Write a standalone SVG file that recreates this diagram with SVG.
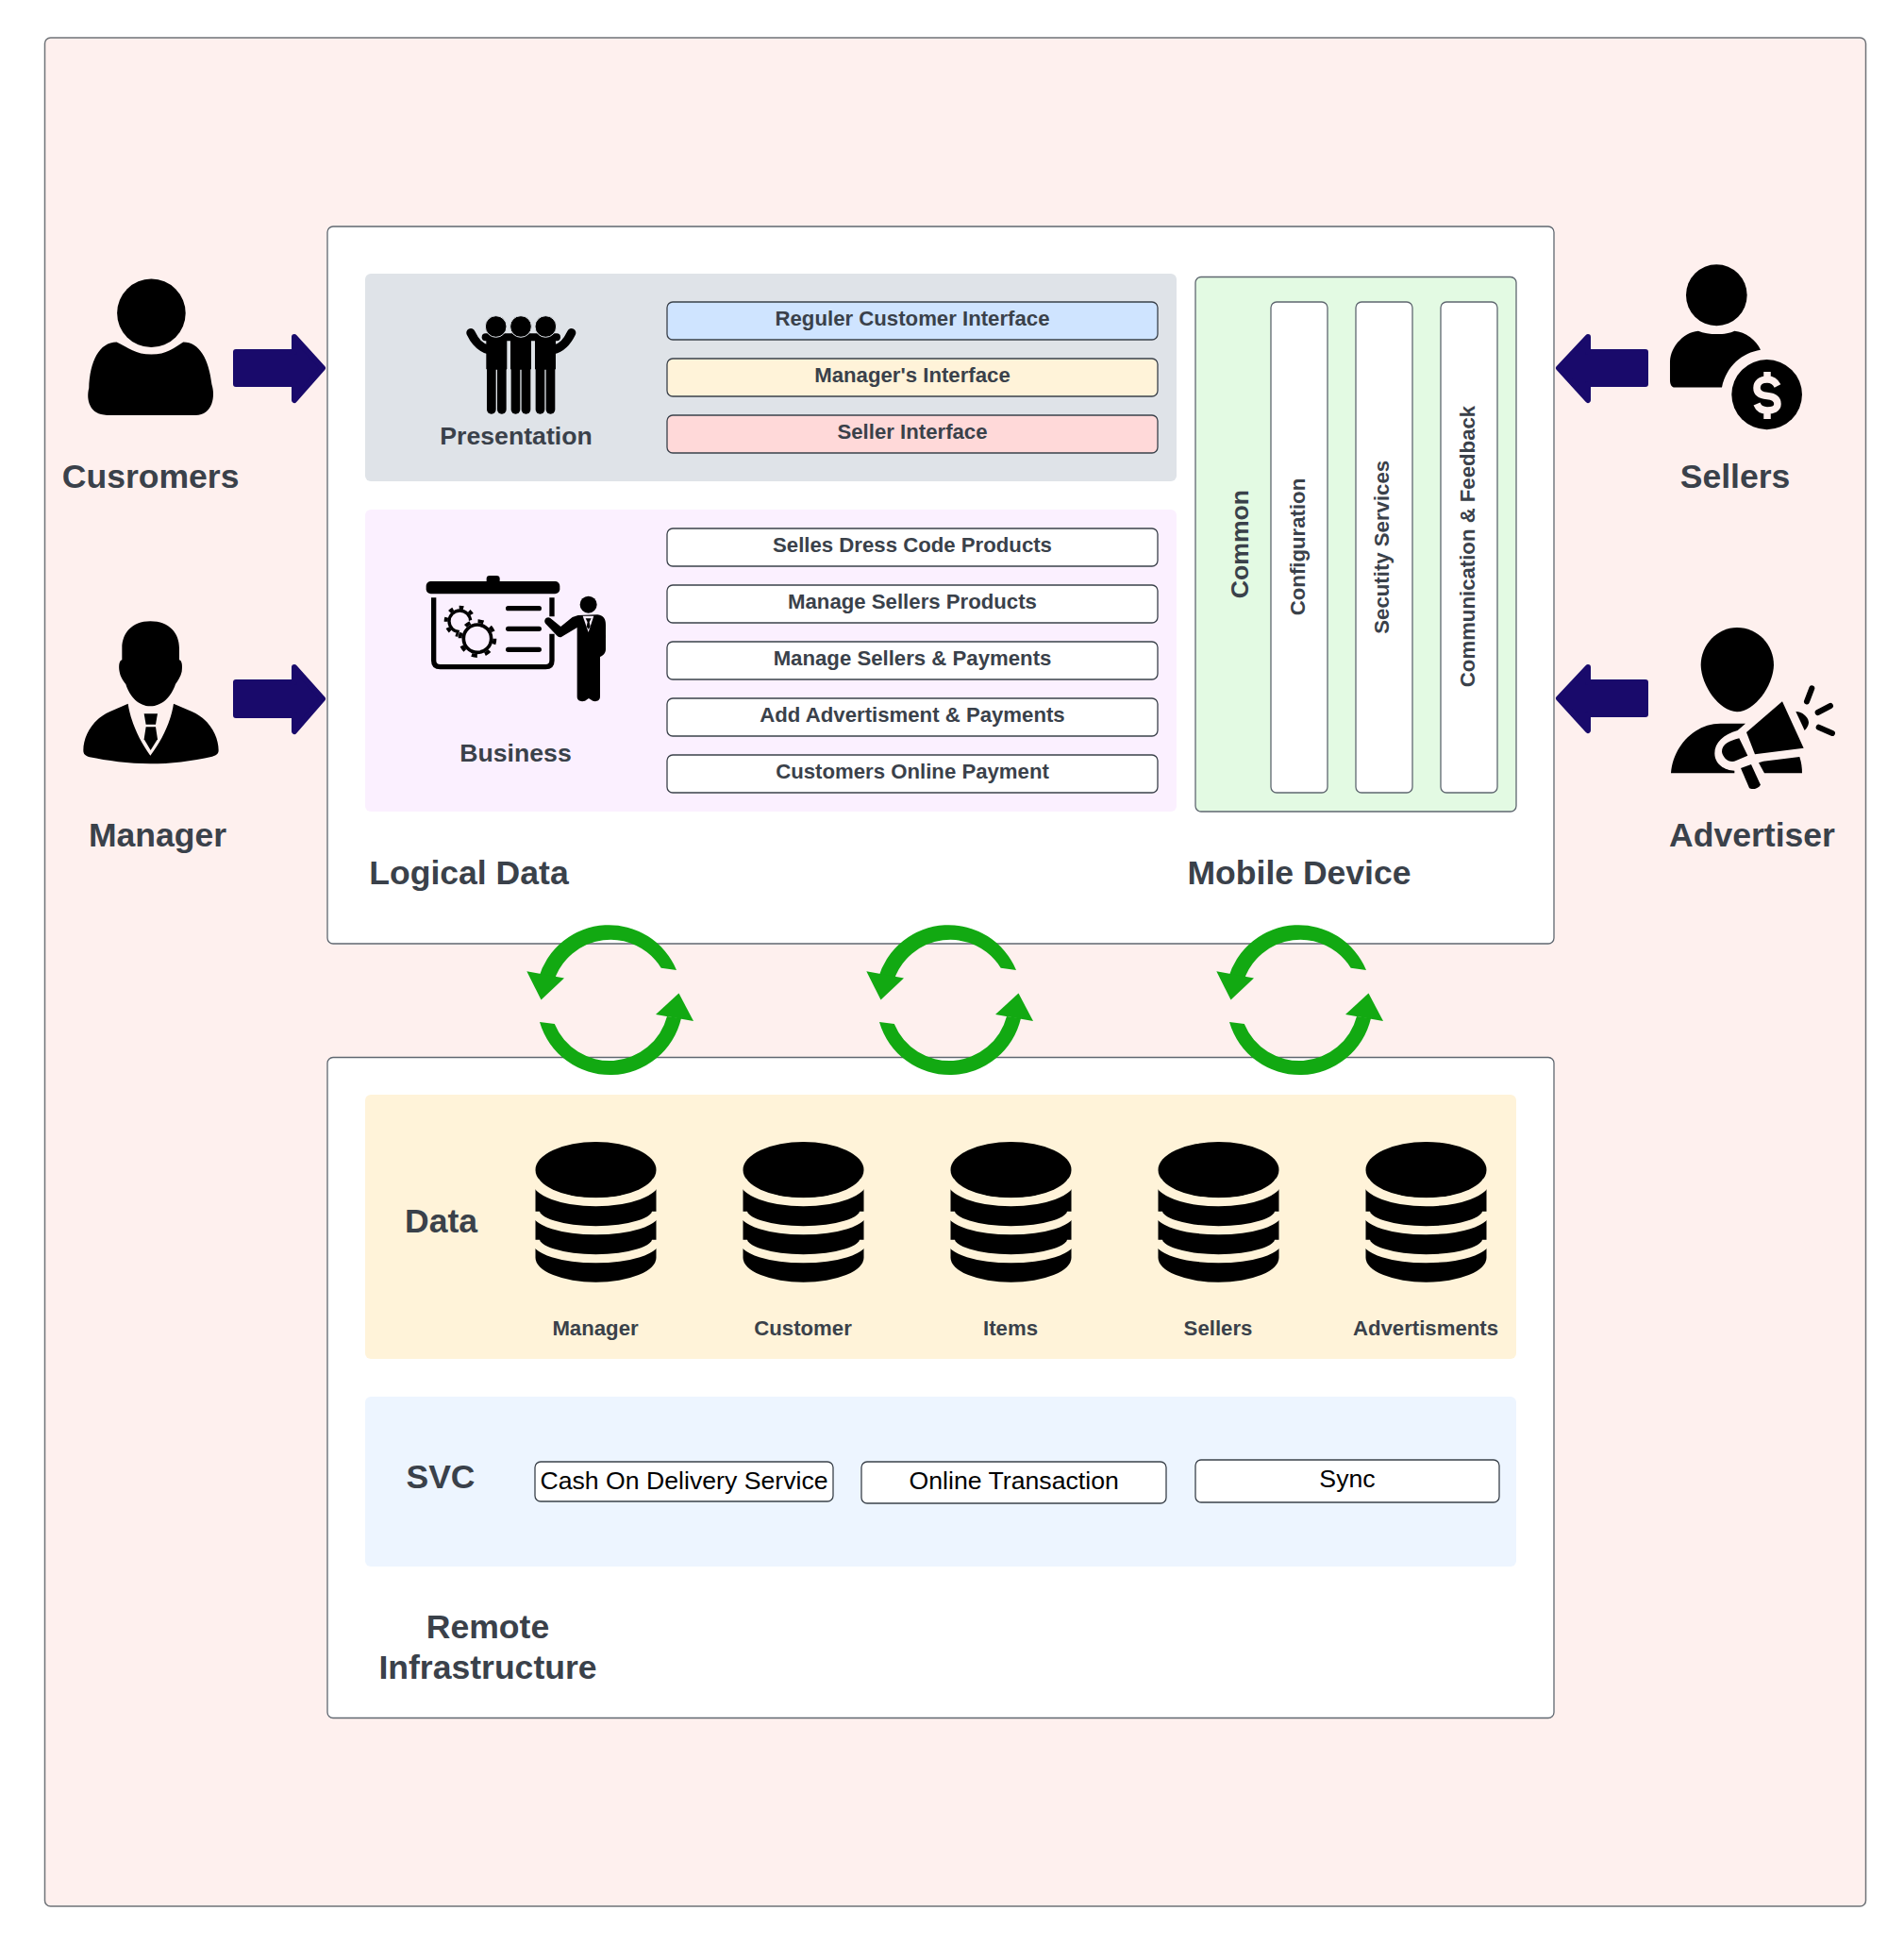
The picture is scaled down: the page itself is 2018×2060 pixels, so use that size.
<svg xmlns="http://www.w3.org/2000/svg" xmlns:xlink="http://www.w3.org/1999/xlink" width="2018" height="2060" viewBox="0 0 2018 2060">
<style>
text{font-family:"Liberation Sans",Arial,sans-serif;fill:#3a414a;font-weight:700;text-anchor:middle}
.t35{font-size:35.56px}.t26{font-size:26.67px}.t22{font-size:22.2px}
.t27{font-size:26.67px;font-weight:400;fill:#000}
.box{stroke:#5f6770;stroke-width:1.3}
.bar{stroke:#3a414a;stroke-width:1.3}
.arrow{fill:#190a6b;stroke:#190a6b;stroke-width:6;stroke-linejoin:round}
.synch{fill:#12a912}
.k{fill:#000}
</style>
<defs>
<g id="db">
<ellipse class="k" rx="64" ry="29.7"/>
<path class="k" d="M-64 10A64 24 0 0 0 64 10V93A64 26 0 0 1 -64 93Z"/>
<path d="M-64 10A64 24 0 0 0 64 10M-64 44A64 20 0 0 0 64 44M-64 74A64 20 0 0 0 64 74" fill="none" stroke="#fff3d9" stroke-width="9"/>
</g>
<g id="syncicon" class="synch">
<path d="M717 1028A77.500 77.500 0 0 0 571 1036L587 1040A63 63 0 0 1 700.700 1025.700Z"/>
<polygon points="573.500,1059.600 558.300,1029.300 598,1036.400"/>
<path d="M572 1083A77.500 77.500 0 0 0 722 1079L707 1077A63 63 0 0 1 587.800 1085Z"/>
<polygon points="719.500,1052.500 695,1075 735,1082"/>
</g>
<g id="teamp">
<rect x="-33" y="172" width="66" height="103" rx="4" class="k"/>
<rect x="-31" y="240" width="29" height="176" rx="14" class="k"/>
<rect x="2" y="240" width="29" height="176" rx="14" class="k"/>
</g>
</defs>
<rect width="2018" height="2060" fill="#fff"/>
<g id="background"><rect x="47.5" y="40" width="1930" height="1980" rx="6" fill="#fef0ee" stroke="#6f7378" stroke-width="1.5"/></g>
<g id="logical-data">
<rect class="box" x="347" y="240" width="1300" height="760" rx="6" fill="#fff"/>
<text class="t35" x="497" y="937">Logical Data</text>
<text class="t35" x="1377" y="937">Mobile Device</text>
</g>
<g id="remote-infrastructure">
<rect class="box" x="347" y="1120.5" width="1300" height="700" rx="6" fill="#fff"/>
<text class="t35" x="517" y="1736">Remote</text>
<text class="t35" x="517" y="1779">Infrastructure</text>
</g>
<g id="presentation">
<rect x="387" y="290" width="860" height="220" rx="6" fill="#dfe3e8"/>
<g transform="translate(420 300) scale(.3333)">
<path d="M237 158C250 185 265 205 295 212M557 158C544 185 529 205 499 212" fill="none" stroke="#000" stroke-width="28" stroke-linecap="round"/>
<use href="#teamp" x="319"/><use href="#teamp" x="396"/><use href="#teamp" x="474"/>
<path d="M358 178V262M436 178V262" stroke="#dfe3e8" stroke-width="3"/>
<path d="M284 172H510" stroke="#000" stroke-width="24" stroke-linecap="round"/>
<circle cx="317" cy="138" r="34" class="k" stroke="#dfe3e8" stroke-width="3"/>
<circle cx="396" cy="138" r="34" class="k" stroke="#dfe3e8" stroke-width="3"/>
<circle cx="475" cy="138" r="34" class="k" stroke="#dfe3e8" stroke-width="3"/>
</g>
<text class="t26" x="547" y="471">Presentation</text>
<rect class="bar" x="707" y="320" width="520" height="40" rx="6" fill="#cfe4ff"/>
<text class="t22" x="967" y="345">Reguler Customer Interface</text>
<rect class="bar" x="707" y="380" width="520" height="40" rx="6" fill="#fff3d9"/>
<text class="t22" x="967" y="405">Manager's Interface</text>
<rect class="bar" x="707" y="440" width="520" height="40" rx="6" fill="#ffd9d9"/>
<text class="t22" x="967" y="465">Seller Interface</text>
</g>
<g id="business">
<rect x="387" y="540" width="860" height="320" rx="6" fill="#fbf0ff"/>
<g transform="translate(430 590) scale(.3333)">
<rect x="65" y="78" width="425" height="40" rx="15" class="k"/>
<rect x="257" y="60" width="42" height="30" rx="10" class="k"/>
<path d="M89 130V330Q89 350 110 350H445Q465 350 465 330V245M465 130V190" fill="none" stroke="#000" stroke-width="16"/>
<path d="M326 164H424M326 229H424M326 295H424" stroke="#000" stroke-width="16" stroke-linecap="round"/>
<circle cx="172" cy="205" r="34" fill="none" stroke="#000" stroke-width="10"/>
<circle cx="172" cy="205" r="44" fill="none" stroke="#000" stroke-width="12" stroke-dasharray="14 20"/>
<circle cx="228" cy="260" r="62" fill="#fbf0ff"/>
<circle cx="228" cy="260" r="44" fill="none" stroke="#000" stroke-width="11"/>
<circle cx="228" cy="260" r="55" fill="none" stroke="#000" stroke-width="12" stroke-dasharray="18 25.2"/>
<circle cx="581" cy="152" r="27" class="k"/>
<path class="k" d="M548 186L610 184C630 186 636 200 636 215V295C636 305 628 315 618 318V445C618 458 605 462 595 458L582 450L570 458C558 462 545 458 545 445V225L495 255C490 257 484 255 480 250L445 213C435 200 450 187 460 195L493 222L530 192Z"/>
<polygon points="563,188 598,188 581,240" fill="#fbf0ff"/>
<polygon points="572,196 590,196 584,208 587,222 581,230 575,222 578,208" class="k"/>
</g>
<text class="t26" x="546.5" y="807">Business</text>
<rect class="bar" x="707" y="560" width="520" height="40" rx="6" fill="#fff"/>
<text class="t22" x="967" y="585">Selles Dress Code Products</text>
<rect class="bar" x="707" y="620" width="520" height="40" rx="6" fill="#fff"/>
<text class="t22" x="967" y="645">Manage Sellers Products</text>
<rect class="bar" x="707" y="680" width="520" height="40" rx="6" fill="#fff"/>
<text class="t22" x="967" y="705">Manage Sellers &amp; Payments</text>
<rect class="bar" x="707" y="740" width="520" height="40" rx="6" fill="#fff"/>
<text class="t22" x="967" y="765">Add Advertisment &amp; Payments</text>
<rect class="bar" x="707" y="800" width="520" height="40" rx="6" fill="#fff"/>
<text class="t22" x="967" y="825">Customers Online Payment</text>
</g>
<g id="common">
<rect class="box" x="1267" y="293.500" width="340" height="566.500" rx="6" fill="#e3fae3"/>
<text class="t26" transform="translate(1322.700 576.600) rotate(-90)">Common</text>
<rect class="box" x="1347" y="320" width="60" height="520" rx="6" fill="#fff"/>
<text class="t22" transform="translate(1382.700 579.500) rotate(-90)">Configuration</text>
<rect class="box" x="1437" y="320" width="60" height="520" rx="6" fill="#fff"/>
<text class="t22" transform="translate(1472 579.800) rotate(-90)">Secutity Services</text>
<rect class="box" x="1527" y="320" width="60" height="520" rx="6" fill="#fff"/>
<text class="t22" transform="translate(1562.700 579) rotate(-90)">Communication &amp; Feedback</text>
</g>
<g id="data">
<rect x="387" y="1160" width="1220" height="280" rx="6" fill="#fff3d9"/>
<text class="t35" x="467.600" y="1306">Data</text>
<use href="#db" x="631.500" y="1239.700"/><use href="#db" x="851.500" y="1239.700"/><use href="#db" x="1071.500" y="1239.700"/><use href="#db" x="1291.500" y="1239.700"/><use href="#db" x="1511.500" y="1239.700"/>
<text class="t22" x="631" y="1415">Manager</text>
<text class="t22" x="851" y="1415">Customer</text>
<text class="t22" x="1071" y="1415">Items</text>
<text class="t22" x="1291" y="1415">Sellers</text>
<text class="t22" x="1511" y="1415">Advertisments</text>
</g>
<g id="svc">
<rect x="387" y="1480" width="1220" height="180" rx="6" fill="#edf5ff"/>
<text class="t35" x="467" y="1577">SVC</text>
<rect class="bar" x="567" y="1549" width="316" height="42" rx="6" fill="#fff"/>
<text class="t27" x="725" y="1578">Cash On Delivery Service</text>
<rect class="bar" x="913" y="1549" width="323" height="44" rx="6" fill="#fff"/>
<text class="t27" x="1074.700" y="1578">Online Transaction</text>
<rect class="bar" x="1267" y="1547" width="322" height="45" rx="6" fill="#fff"/>
<text class="t27" x="1428" y="1576">Sync</text>
</g>
<g id="customers">
<circle cx="160.400" cy="331.800" r="36.300" class="k"/>
<path class="k" transform="translate(40 240) scale(.408)" d="M205 300C235 315 255 332 295 332C335 332 355 315 378 300C420 300 445 345 452 410C462 440 455 490 410 490H180C135 490 125 450 133 420C135 350 160 300 205 300Z"/>
<text class="t35" x="159.600" y="517">Cusromers</text>
</g>
<g id="manager">
<g transform="translate(40 620) scale(.3333)" class="k">
<path d="M358 115C420 115 450 155 450 200V238C460 240 460 260 458 275C455 290 445 305 438 315C425 355 395 385 358 385C322 385 292 355 280 315C272 305 262 290 260 275C257 260 258 240 268 238V200C268 155 298 115 358 115Z"/>
<path d="M287 377C295 430 320 490 358 542C398 490 424 430 432 377L490 402C545 425 575 480 575 525C575 535 570 540 555 545C490 560 420 568 358 568C290 568 220 558 165 547C150 542 145 537 145 525C145 480 175 425 230 402Z"/>
<polygon points="338,409 381,409 375,443 344,443"/>
<polygon points="344,451 375,451 381,490 359,525 338,490"/>
</g>
<text class="t35" x="167" y="897">Manager</text>
</g>
<g id="sellers">
<g transform="translate(1600 240) scale(.3333 .4464)" class="k">
<ellipse cx="658" cy="163" rx="97" ry="73"/>
<path d="M600 248C630 258 690 258 715 248C750 250 785 270 798 293C740 300 690 330 675 382H525C515 382 510 375 510 365V320C512 285 555 250 600 248Z"/>
<ellipse cx="818" cy="399" rx="112" ry="83"/>
</g>
<path d="M1884 409C1881 403 1877 402 1873 402C1866 402 1862 406 1862 411C1862 417 1867 419 1873 419.500C1880 420 1884 423 1884 428C1884 433 1879 435 1873 435C1868 435 1864 433 1862 428M1873 394V402M1873 435V444" fill="none" stroke="#fef0ee" stroke-width="7.500"/>
<text class="t35" x="1839" y="517">Sellers</text>
</g>
<g id="advertiser">
<g transform="translate(1740 650) scale(.3333)" class="k">
<path d="M303 45C370 45 420 100 420 165C418 230 360 312 303 313C245 310 190 230 188 165C188 100 240 45 303 45Z"/>
<path d="M93 508C100 420 170 350 250 350H330L305 372C260 385 232 410 232 445C232 480 265 500 295 500V508Z"/>
<path d="M333 378L447 280L515 428L360 448Z"/>
<path d="M310 397L337 452L300 468C280 478 258 460 255 440C255 415 280 405 310 397Z"/>
<path d="M387 470L502 456C508 475 510 490 510 508H390L372 475Z"/>
<path d="M315 492L348 480L378 545C370 558 350 562 342 555Z"/>
<path d="M490 312C515 312 532 335 531 348C530 358 525 365 518 372Z"/>
<path d="M525 280L541 238M560 315L600 294M563 362L606 381" stroke="#000" stroke-width="18" stroke-linecap="round"/>
</g>
<text class="t35" x="1857" y="897">Advertiser</text>
</g>
<g id="connectors">
<path class="arrow" d="M250 373H312V357L342 390L312 424V407H250Z"/>
<path class="arrow" d="M250 723H312V707L342 740.500L312 775V758H250Z"/>
<path class="arrow" d="M1744 373H1683V357L1652 390L1683 424V407H1744Z"/>
<path class="arrow" d="M1744 723H1683V707L1652 740L1683 774V757H1744Z"/>
<use href="#syncicon"/>
<use href="#syncicon" x="360"/>
<use href="#syncicon" x="731"/>
</g>
</svg>
